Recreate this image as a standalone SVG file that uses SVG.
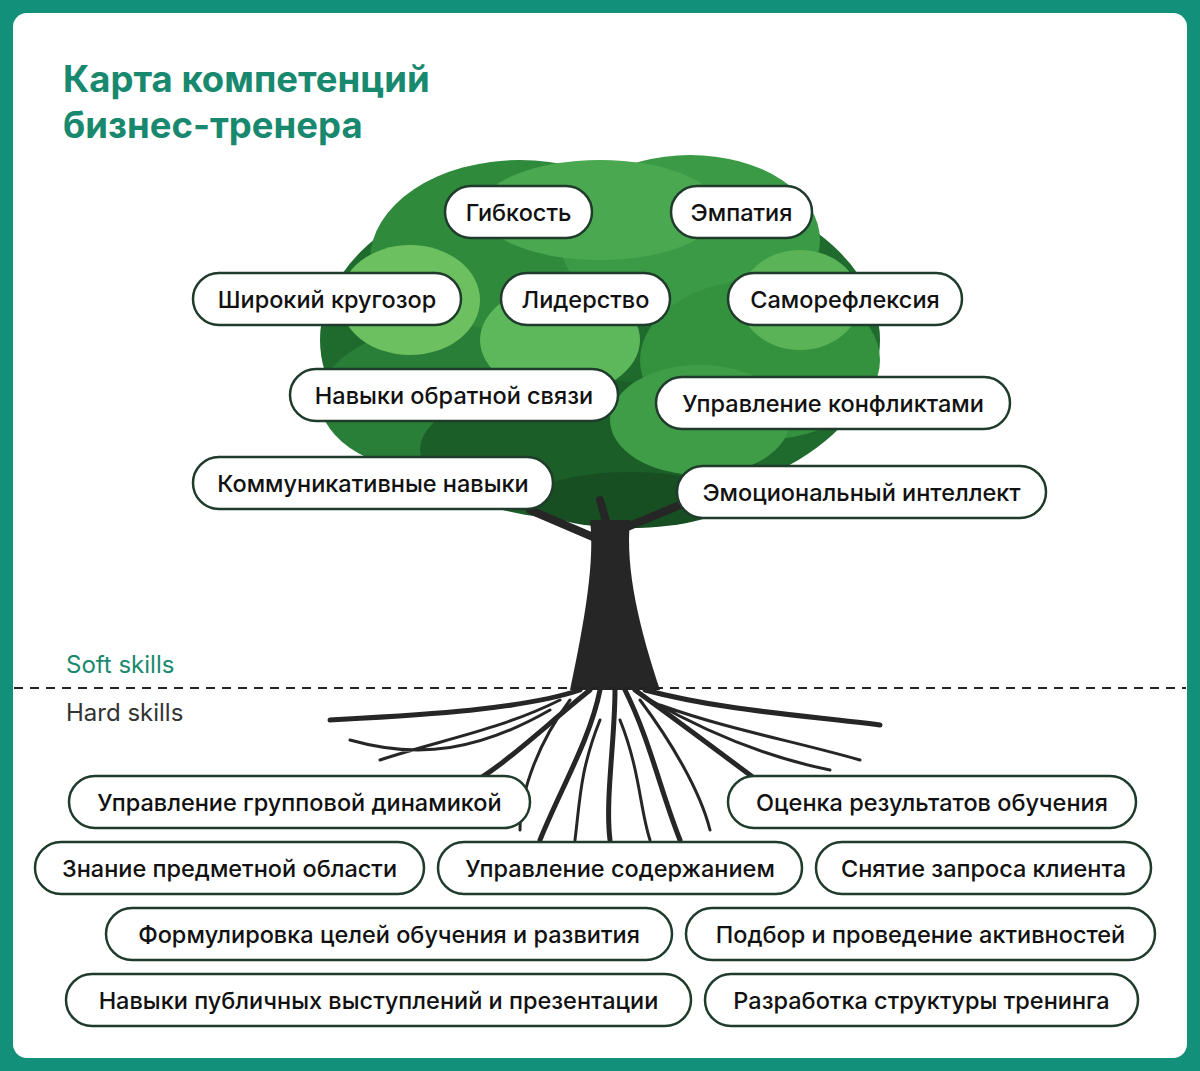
<svg xmlns="http://www.w3.org/2000/svg" width="1200" height="1071" viewBox="0 0 1200 1071">
<style>
.pill rect{fill:#fff;stroke:#1f3b2b;stroke-width:2.5}
.pill text{font-family:Inter,"Noto Sans",sans-serif;font-size:23.5px;font-weight:500;fill:#111;text-anchor:middle;dominant-baseline:central}
.root{fill:none;stroke:#262626;stroke-linecap:round}
</style>
<rect width="1200" height="1071" fill="#12907a"/>
<rect x="13" y="13" width="1174" height="1045" rx="14" fill="#fff"/>
<g id="title" font-family="Inter,'Noto Sans',sans-serif" font-weight="700" font-size="36.5" fill="#18896e">
<text x="63" y="92">Карта компетенций</text>
<text x="63" y="138">бизнес-тренера</text>
</g>
<g id="tree">
<g id="canopy">
<ellipse cx="600" cy="340" rx="280" ry="170" fill="#1f6b2e"/>
<ellipse cx="520" cy="260" rx="150" ry="100" fill="#2f8a3c"/>
<ellipse cx="690" cy="240" rx="130" ry="85" fill="#3a9a45"/>
<ellipse cx="600" cy="210" rx="120" ry="50" fill="#4aa850"/>
<ellipse cx="450" cy="400" rx="130" ry="75" fill="#2a7f38"/>
<ellipse cx="760" cy="360" rx="120" ry="80" fill="#34923f"/>
<ellipse cx="590" cy="450" rx="170" ry="70" fill="#1c5e28"/>
<ellipse cx="560" cy="340" rx="80" ry="55" fill="#5cb85a"/>
<ellipse cx="700" cy="420" rx="90" ry="55" fill="#3f9d48"/>
<ellipse cx="410" cy="300" rx="70" ry="55" fill="#6cc060"/>
<ellipse cx="800" cy="300" rx="60" ry="50" fill="#5ab356"/>
<ellipse cx="630" cy="500" rx="100" ry="28" fill="#174f22"/>
</g>
<g id="trunk">
<path d="M590 520 C595 560 585 620 570 690 L660 690 C640 630 625 570 630 520 Z" fill="#262626"/>
<path class="root" stroke-width="8" d="M600 540 L530 510 M620 530 L680 505 M610 535 L600 500"/>
</g>
<g id="roots" class="root">
<path stroke-width="5" d="M580 690 C520 710 420 715 330 720 M590 690 C540 730 500 770 460 790 M600 690 C590 740 560 790 540 840 M615 690 C615 740 605 800 610 840 M625 690 C650 740 660 790 680 840 M635 690 C690 730 730 760 770 790 M645 690 C720 710 800 715 880 725"/>
<path stroke-width="3" d="M560 700 C500 730 440 740 380 760 M570 700 C540 740 520 790 520 830 M640 700 C670 740 700 790 710 830 M650 700 C720 740 780 760 830 770 M600 720 C580 770 580 800 575 840 M620 720 C640 770 640 810 650 840 M550 710 C480 750 420 760 350 740 M660 705 C730 730 790 740 860 760"/>
</g>
</g>
<g id="divider">
<line x1="14" y1="688" x2="1186" y2="688" stroke="#222" stroke-width="2" stroke-dasharray="9,7"/>
<text x="66" y="673" font-family="Inter,'Noto Sans',sans-serif" font-size="24" fill="#18896e">Soft skills</text>
<text x="66" y="721" font-family="Inter,'Noto Sans',sans-serif" font-size="24" fill="#333">Hard skills</text>
</g>
<g id="n1" class="pill"><rect x="445" y="186" width="147" height="52" rx="26"/><text x="518.5" y="212">Гибкость</text></g>
<g id="n2" class="pill"><rect x="671" y="186" width="141" height="52" rx="26"/><text x="741.5" y="212">Эмпатия</text></g>
<g id="n3" class="pill"><rect x="193" y="273" width="268" height="52" rx="26"/><text x="327" y="299">Широкий кругозор</text></g>
<g id="n4" class="pill"><rect x="501" y="273" width="169" height="52" rx="26"/><text x="585.5" y="299">Лидерство</text></g>
<g id="n5" class="pill"><rect x="728" y="273" width="234" height="52" rx="26"/><text x="845" y="299">Саморефлексия</text></g>
<g id="n6" class="pill"><rect x="290" y="369" width="328" height="52" rx="26"/><text x="454" y="395">Навыки обратной связи</text></g>
<g id="n7" class="pill"><rect x="656" y="377" width="354" height="52" rx="26"/><text x="833" y="403">Управление конфликтами</text></g>
<g id="n8" class="pill"><rect x="193" y="457" width="360" height="52" rx="26"/><text x="373" y="483">Коммуникативные навыки</text></g>
<g id="n9" class="pill"><rect x="677" y="466" width="369" height="52" rx="26"/><text x="861.5" y="492">Эмоциональный интеллект</text></g>
<g id="h1" class="pill"><rect x="69" y="776" width="461" height="52" rx="26"/><text x="299.5" y="802">Управление групповой динамикой</text></g>
<g id="h2" class="pill"><rect x="728" y="776" width="408" height="52" rx="26"/><text x="932" y="802">Оценка результатов обучения</text></g>
<g id="h3" class="pill"><rect x="35" y="842" width="389" height="52" rx="26"/><text x="229.5" y="868">Знание предметной области</text></g>
<g id="h4" class="pill"><rect x="438" y="842" width="364" height="52" rx="26"/><text x="620" y="868">Управление содержанием</text></g>
<g id="h5" class="pill"><rect x="816" y="842" width="335" height="52" rx="26"/><text x="983.5" y="868">Снятие запроса клиента</text></g>
<g id="h6" class="pill"><rect x="106" y="908" width="566" height="52" rx="26"/><text x="389" y="934">Формулировка целей обучения и развития</text></g>
<g id="h7" class="pill"><rect x="686" y="908" width="469" height="52" rx="26"/><text x="920.5" y="934">Подбор и проведение активностей</text></g>
<g id="h8" class="pill"><rect x="66" y="974" width="625" height="52" rx="26"/><text x="378.5" y="1000">Навыки публичных выступлений и презентации</text></g>
<g id="h9" class="pill"><rect x="705" y="974" width="433" height="52" rx="26"/><text x="921.5" y="1000">Разработка структуры тренинга</text></g>
</svg>
